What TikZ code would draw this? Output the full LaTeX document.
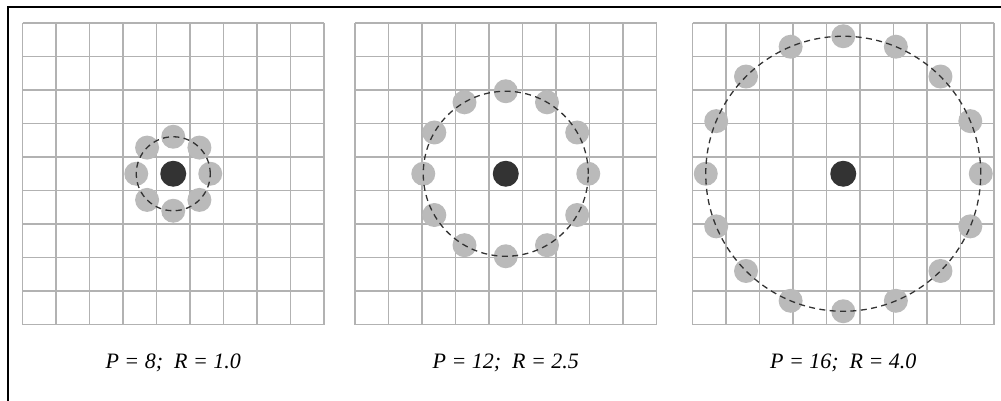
\documentclass[tikz,border=0pt]{standalone}
\usepackage{fontspec}
\setmainfont{Liberation Serif}
\usepackage{tikz}
\usetikzlibrary{positioning}
\colorlet{gridgray}{black!30}
\colorlet{dotgray}{black!27}
\colorlet{centredark}{black!80}

\begin{document}
\begin{tikzpicture}[x=0.5pt, y=-0.5pt,
  gridline/.style={draw=gridgray, line width=0.75pt},
  neighbour/.style={circle, fill=dotgray, minimum size=12pt, inner sep=0pt},
  centre/.style={circle, fill=centredark, minimum size=13pt, inner sep=0pt},
  ring/.style={draw=black!80, dash pattern=on 3pt off 2.2pt, line width=0.65pt},
  caption/.style={font=\fontsize{11}{13}\selectfont\itshape, anchor=base}]
  \useasboundingbox (0,0) rectangle (1001,401);
  % frame, open to the right and bottom
  \draw[line width=1pt] (7.5,401) -- (7.5,7.5) -- (1001,7.5);
  \foreach \name/\cx/\p/\r/\lbl in {eight/173.25/8/37/{P = 8;\ \ R = 1.0},
      twelve/505.75/12/82.5/{P = 12;\ \ R = 2.5},
      sixteen/843.25/16/137.5/{P = 16;\ \ R = 4.0}} {
    \begin{scope}[shift={(\cx,173.75)}]
      % pixel grid
      \foreach \i in {0,...,9} {
        \draw[gridline] (-150.75+\i*33.5,-150.75) -- (-150.75+\i*33.5,150.75);
        \draw[gridline] (-150.75,-150.75+\i*33.5) -- (150.75,-150.75+\i*33.5);
      }
      \node[centre] (c-\name) at (0,0) {};
      % sampling points
      \foreach \k in {1,...,\p}
        \node[neighbour] (\name-\k) at ({360*\k/\p}:\r) {};
      \draw[ring] (c-\name.center) circle [radius={\r*0.5pt}];
      \node[caption] (l-\name) at (0,195) {\lbl};
    \end{scope}
  }
\end{tikzpicture}
\end{document}
